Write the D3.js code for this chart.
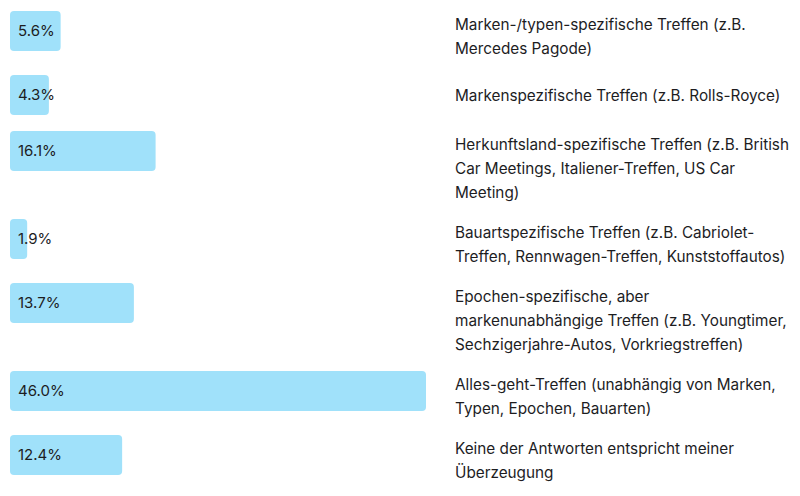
<!DOCTYPE html>
<html>
<head>
<meta charset="utf-8">
<script src="https://cdn.jsdelivr.net/npm/d3@7.9.0/dist/d3.min.js"></script>
<style>
  html, body { margin: 0; padding: 0; background: #fff; }
  svg { display: block; font-family: Inter, "Noto Sans", sans-serif; }
</style>
</head>
<body>
<svg id="chart" width="800" height="496"></svg>
<script>
// categories (line breaks as shown in the survey)
const categories = [
  "Marken-/typen-spezifische Treffen (z.B.\nMercedes Pagode)",
  "Markenspezifische Treffen (z.B. Rolls-Royce)",
  "Herkunftsland-spezifische Treffen (z.B. British\nCar Meetings, Italiener-Treffen, US Car\nMeeting)",
  "Bauartspezifische Treffen (z.B. Cabriolet-\nTreffen, Rennwagen-Treffen, Kunststoffautos)",
  "Epochen-spezifische, aber\nmarkenunabhängige Treffen (z.B. Youngtimer,\nSechzigerjahre-Autos, Vorkriegstreffen)",
  "Alles-geht-Treffen (unabhängig von Marken,\nTypen, Epochen, Bauarten)",
  "Keine der Antworten entspricht meiner\nÜberzeugung"
];
const shares = [5.6, 4.3, 16.1, 1.9, 13.7, 46.0, 12.4];

const svg = d3.select("#chart");
const barH = 40, lineH = 24, gap = 16, top0 = 11;

const lines = categories.map(c => c.split("\n"));

// row tops depend on how many label lines each row has
let tops = [], y0 = top0;
lines.forEach(l => {
    tops.push(y0);
    y0 += Math.max(barH, l.length * lineH) + gap;
});
const y = d3.scaleOrdinal().domain(categories).range(tops);
const x = d3.scaleLinear().domain([0, 46]).range([10, 426]);

const rows = svg.selectAll("g.row")
    .data(categories.map((c, i) => ({ cat: c, value: shares[i], lines: lines[i] })))
    .enter().append("g")
    .attr("class", "row")
    .attr("transform", d => `translate(0,${y(d.cat)})`);

rows.append("rect")
    .attr("x", x(0))
    .attr("y", 0)
    .attr("width", d => x(d.value) - x(0))
    .attr("height", barH)
    .attr("rx", 4)
    .attr("fill", "#a0e1fa");

rows.append("text")
    .attr("x", x(0) + 8)
    .attr("y", barH / 2)
    .attr("dy", "0.35em")
    .attr("fill", "#1d1d1f")
    .style("font-size", "15px")
    .text(d => d.value.toFixed(1) + "%");

// labels to the right
rows.each(function (d) {
    const g = d3.select(this);
    const blockH = d.lines.length * lineH;
    const start = blockH < barH ? (barH - blockH) / 2 + 1 : 2;
    g.selectAll("text.lab")
        .data(d.lines)
        .enter().append("text")
        .attr("class", "lab")
        .attr("x", 455)
        .attr("y", (l, i) => start + i * lineH + lineH / 2)
        .attr("dy", "0.35em")
        .attr("fill", "#1d1d1f")
        .style("font-size", "15.3px")
        .text(l => l);
});
</script>
</body>
</html>
